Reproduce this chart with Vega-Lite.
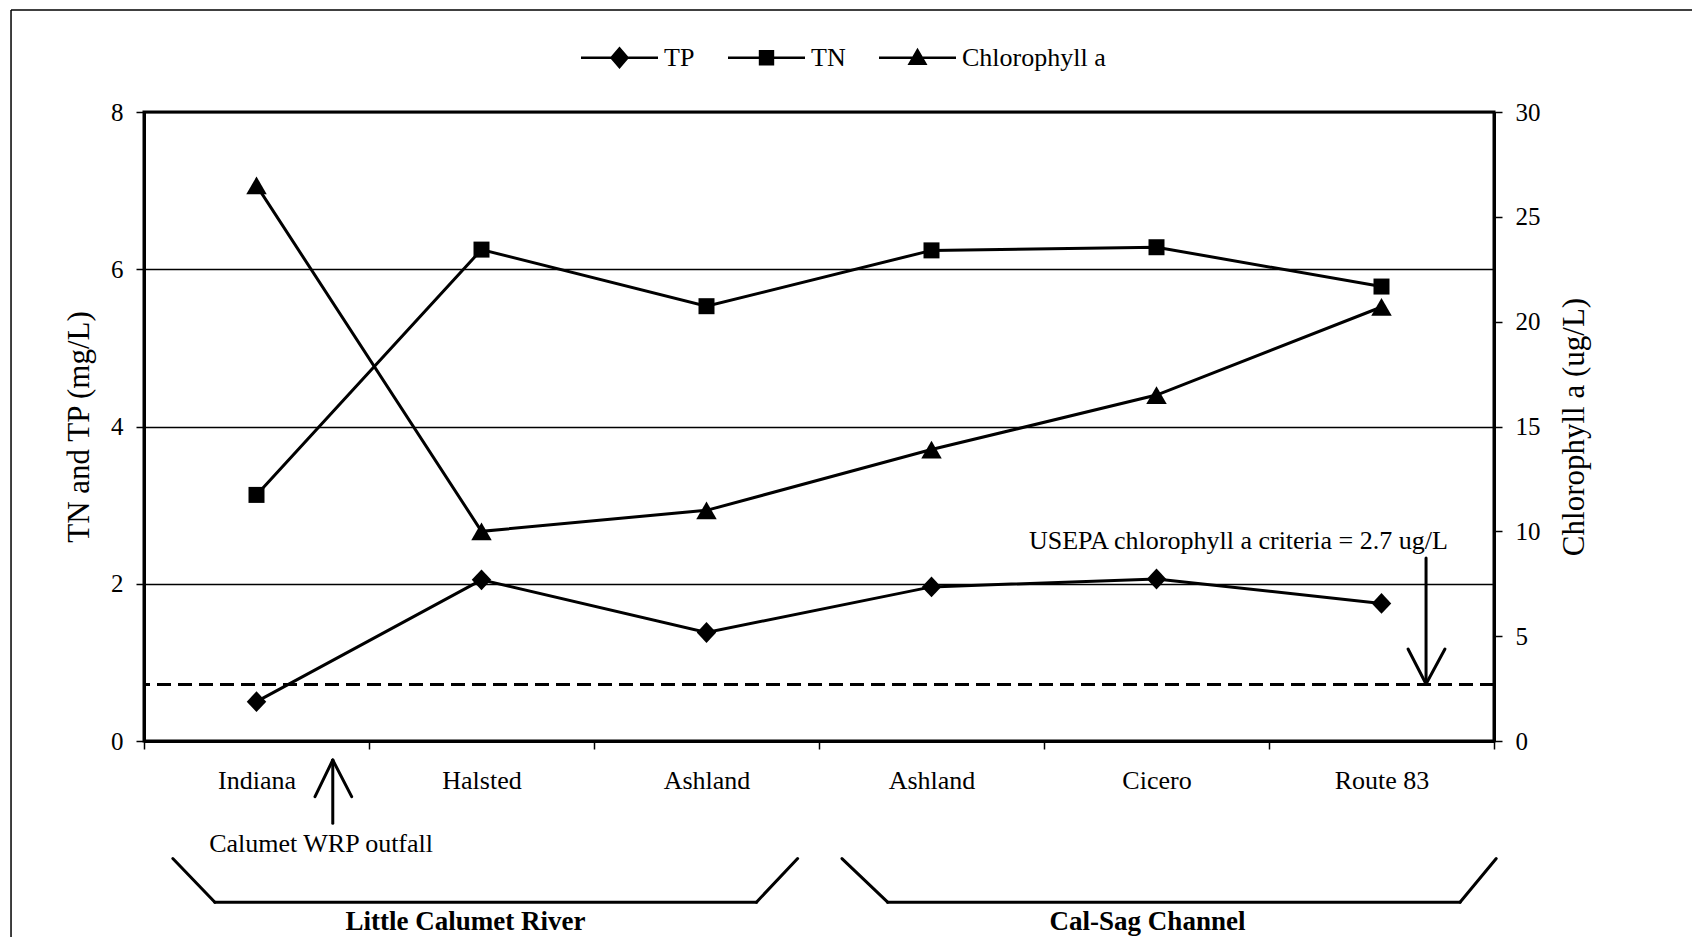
{
  "$schema": "https://vega.github.io/schema/vega-lite/v6.json",
  "width": 1350,
  "height": 629,
  "autosize": {"type": "none"},
  "padding": {"left": 144, "top": 112, "right": 198, "bottom": 196},
  "background": "white",
  "config": {
    "font": "Liberation Serif",
    "view": {"stroke": "black", "strokeWidth": 3},
    "axis": {
      "labelFont": "Liberation Serif",
      "titleFont": "Liberation Serif",
      "labelColor": "black",
      "titleColor": "black",
      "domainColor": "black",
      "tickColor": "black",
      "titleFontWeight": "normal",
      "domainWidth": 3,
      "tickWidth": 1.5,
      "tickSize": 8,
      "labelOverlap": false,
      "labelFlush": false
    },
    "legend": {"labelFont": "Liberation Serif", "labelColor": "black"}
  },
  "datasets": {
    "stations": [
      {"idx": 1, "site": "Indiana", "TP": 0.50, "TN": 3.13, "Chl": 26.5},
      {"idx": 2, "site": "Halsted", "TP": 2.05, "TN": 6.25, "Chl": 10.0},
      {"idx": 3, "site": "Ashland (Little Calumet)", "TP": 1.38, "TN": 5.53, "Chl": 11.0},
      {"idx": 4, "site": "Ashland (Cal-Sag)", "TP": 1.96, "TN": 6.24, "Chl": 13.9},
      {"idx": 5, "site": "Cicero", "TP": 2.06, "TN": 6.28, "Chl": 16.5},
      {"idx": 6, "site": "Route 83", "TP": 1.75, "TN": 5.78, "Chl": 20.7}
    ],
    "criteria": [{"name": "USEPA chlorophyll a criteria", "Chl": 2.7}],
    "segments": [
      {"part": "frame", "x": -0.591, "y": 9.297, "x2": 6.9, "y2": 9.297},
      {"part": "frame", "x": -0.591, "y": 9.297, "x2": -0.591, "y2": -2.6},
      {"part": "mark", "x": 0.128, "y": -1.495, "x2": 0.315, "y2": -2.05},
      {"part": "mark", "x": 0.315, "y": -2.05, "x2": 2.722, "y2": -2.05},
      {"part": "mark", "x": 2.722, "y": -2.05, "x2": 2.905, "y2": -1.495},
      {"part": "mark", "x": 3.102, "y": -1.495, "x2": 3.305, "y2": -2.05},
      {"part": "mark", "x": 3.305, "y": -2.05, "x2": 5.849, "y2": -2.05},
      {"part": "mark", "x": 5.849, "y": -2.05, "x2": 6.01, "y2": -1.495},
      {"part": "mark", "x": 0.839, "y": -1.047, "x2": 0.839, "y2": -0.242},
      {"part": "mark", "x": 0.76, "y": -0.708, "x2": 0.839, "y2": -0.242},
      {"part": "mark", "x": 0.923, "y": -0.708, "x2": 0.839, "y2": -0.242},
      {"part": "mark", "x": 5.698, "y": 2.328, "x2": 5.698, "y2": 0.725},
      {"part": "mark", "x": 5.618, "y": 1.17, "x2": 5.698, "y2": 0.725},
      {"part": "mark", "x": 5.782, "y": 1.17, "x2": 5.698, "y2": 0.725}
    ],
    "notes": [
      {"kind": "note", "x": 0.787, "y": -1.412, "text": "Calumet WRP outfall"},
      {"kind": "note", "x": 4.864, "y": 2.442, "text": "USEPA chlorophyll a criteria = 2.7 ug/L"},
      {"kind": "region", "x": 1.429, "y": -2.40, "text": "Little Calumet River"},
      {"kind": "region", "x": 4.46, "y": -2.40, "text": "Cal-Sag Channel"}
    ],
    "series": [
      {"series": "TP"},
      {"series": "TN"},
      {"series": "Chlorophyll a"}
    ]
  },
  "layer": [
    {
      "data": {"name": "stations"},
      "transform": [{"fold": ["TP", "TN"], "as": ["series", "value"]}],
      "encoding": {
        "x": {
          "field": "site",
          "type": "nominal",
          "sort": null,
          "scale": {
            "type": "band",
            "domain": ["Indiana", "Halsted", "Ashland (Little Calumet)", "Ashland (Cal-Sag)", "Cicero", "Route 83"],
            "paddingInner": 0,
            "paddingOuter": 0
          },
          "axis": {
            "title": null,
            "labelExpr": "isValid(datum.value) ? split(datum.value, ' (')[0] : ''",
            "tickBand": "extent",
            "labelAngle": 0,
            "labelFontSize": 26,
            "labelPadding": 18,
            "grid": false
          }
        },
        "y": {
          "field": "value",
          "type": "quantitative",
          "scale": {"domain": [0, 8], "nice": false},
          "axis": {
            "orient": "left",
            "title": "TN and TP (mg/L)",
            "values": [0, 2, 4, 6, 8],
            "grid": true,
            "gridColor": "black",
            "gridWidth": 1.3,
            "gridOpacity": 1,
            "labelFontSize": 25,
            "labelPadding": 13,
            "titleFontSize": 31,
            "titlePadding": 15
          }
        }
      },
      "layer": [
        {
          "mark": {"type": "line", "color": "black", "strokeWidth": 3},
          "encoding": {"detail": {"field": "series"}, "order": {"field": "idx", "type": "quantitative"}}
        },
        {
          "transform": [{"filter": "datum.series === 'TP'"}],
          "mark": {"type": "point", "shape": "M0,-1.07L1,0L0,1.07L-1,0Z", "size": 380, "filled": true, "color": "black", "opacity": 1}
        },
        {
          "transform": [{"filter": "datum.series === 'TN'"}],
          "mark": {"type": "point", "shape": "square", "size": 256, "filled": true, "color": "black", "opacity": 1}
        }
      ]
    },
    {
      "encoding": {
        "y": {
          "field": "Chl",
          "type": "quantitative",
          "scale": {"domain": [0, 30], "nice": false},
          "axis": {
            "orient": "right",
            "title": "Chlorophyll a (ug/L)",
            "values": [0, 5, 10, 15, 20, 25, 30],
            "grid": false,
            "labelFontSize": 25,
            "labelPadding": 13,
            "titleFontSize": 31,
            "titlePadding": 19,
            "titleAngle": 270,
            "titleBaseline": "top"
          }
        }
      },
      "layer": [
        {
          "data": {"name": "stations"},
          "encoding": {
            "x": {
              "field": "site",
              "type": "nominal",
              "sort": null,
              "scale": {
                "type": "band",
                "domain": ["Indiana", "Halsted", "Ashland (Little Calumet)", "Ashland (Cal-Sag)", "Cicero", "Route 83"],
                "paddingInner": 0,
                "paddingOuter": 0
              },
              "axis": null
            }
          },
          "layer": [
            {
              "mark": {"type": "line", "color": "black", "strokeWidth": 3},
              "encoding": {"order": {"field": "idx", "type": "quantitative"}}
            },
            {
              "mark": {"type": "point", "shape": "triangle-up", "size": 420, "filled": true, "color": "black", "opacity": 1}
            }
          ]
        },
        {
          "data": {"name": "criteria"},
          "mark": {"type": "rule", "color": "black", "strokeWidth": 3, "strokeDash": [14, 7]}
        }
      ]
    },
    {
      "layer": [
        {
          "data": {"name": "segments"},
          "transform": [{"filter": "datum.part === 'frame'"}],
          "mark": {"type": "rule", "color": "black", "strokeWidth": 1.5},
          "encoding": {
            "x": {"field": "x", "type": "quantitative", "scale": {"domain": [0, 6], "nice": false, "zero": false}, "axis": null},
            "y": {"field": "y", "type": "quantitative", "scale": {"domain": [0, 8], "nice": false, "zero": false}, "axis": null},
            "x2": {"field": "x2"},
            "y2": {"field": "y2"}
          }
        },
        {
          "data": {"name": "segments"},
          "transform": [{"filter": "datum.part === 'mark'"}],
          "mark": {"type": "rule", "color": "black", "strokeWidth": 3, "strokeCap": "round"},
          "encoding": {
            "x": {"field": "x", "type": "quantitative", "scale": {"domain": [0, 6], "nice": false, "zero": false}, "axis": null},
            "y": {"field": "y", "type": "quantitative", "scale": {"domain": [0, 8], "nice": false, "zero": false}, "axis": null},
            "x2": {"field": "x2"},
            "y2": {"field": "y2"}
          }
        },
        {
          "data": {"name": "notes"},
          "transform": [{"filter": "datum.kind === 'note'"}],
          "mark": {"type": "text", "font": "Liberation Serif", "fontSize": 26, "align": "center", "baseline": "alphabetic", "color": "black"},
          "encoding": {
            "x": {"field": "x", "type": "quantitative", "scale": {"domain": [0, 6], "nice": false, "zero": false}, "axis": null},
            "y": {"field": "y", "type": "quantitative", "scale": {"domain": [0, 8], "nice": false, "zero": false}, "axis": null},
            "text": {"field": "text"}
          }
        },
        {
          "data": {"name": "notes"},
          "transform": [{"filter": "datum.kind === 'region'"}],
          "mark": {"type": "text", "font": "Liberation Serif", "fontSize": 27, "fontWeight": "bold", "align": "center", "baseline": "alphabetic", "color": "black"},
          "encoding": {
            "x": {"field": "x", "type": "quantitative", "scale": {"domain": [0, 6], "nice": false, "zero": false}, "axis": null},
            "y": {"field": "y", "type": "quantitative", "scale": {"domain": [0, 8], "nice": false, "zero": false}, "axis": null},
            "text": {"field": "text"}
          }
        }
      ]
    },
    {
      "data": {"name": "series"},
      "mark": {"type": "point", "filled": true, "opacity": 0, "size": 5929, "color": "black"},
      "encoding": {
        "shape": {
          "field": "series",
          "type": "nominal",
          "scale": {
            "domain": ["TP", "TN", "Chlorophyll a"],
            "range": [
              "M-1,-0.033H1V0.033H-1ZM0,-0.29L0.25,0L0,0.29L-0.25,0Z",
              "M-1,-0.033H1V0.033H-1ZM-0.2,-0.2H0.2V0.2H-0.2Z",
              "M-1,-0.033H1V0.033H-1ZM0,-0.26L0.26,0.19L-0.26,0.19Z"
            ]
          },
          "legend": {
            "title": null,
            "orient": "none",
            "legendX": 437,
            "legendY": -93,
            "direction": "horizontal",
            "padding": 0,
            "labelFontSize": 26,
            "labelOffset": 6,
            "columnPadding": 33,
            "symbolSize": 5929,
            "symbolOpacity": 1,
            "symbolFillColor": "black",
            "symbolStrokeColor": "black",
            "symbolStrokeWidth": 0
          }
        }
      }
    }
  ],
  "resolve": {"scale": {"x": "independent", "y": "independent", "shape": "independent"}}
}
